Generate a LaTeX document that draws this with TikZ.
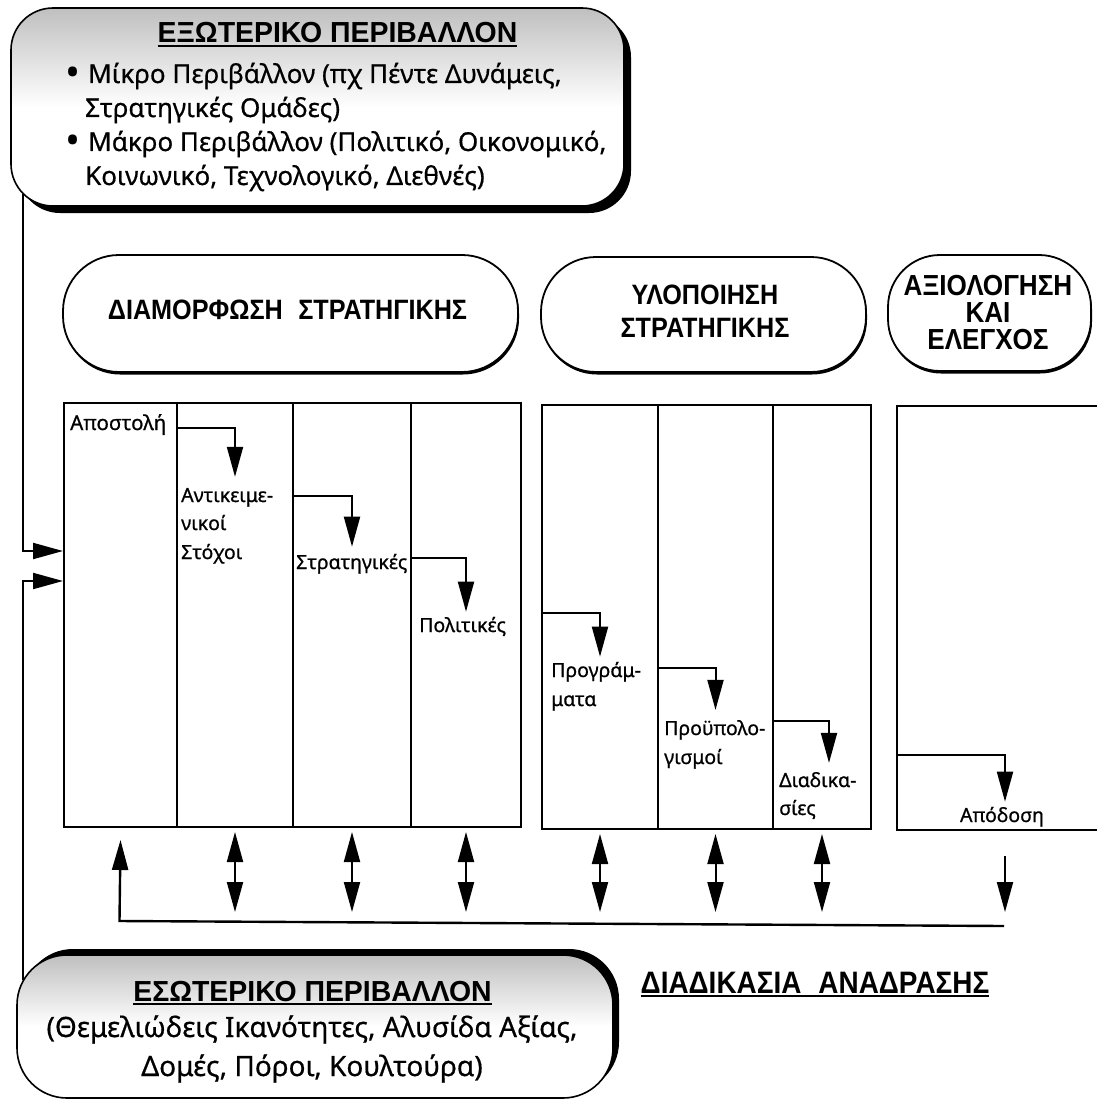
\documentclass[tikz,border=0pt]{standalone}
\usepackage{fontspec}
\setmainfont{Noto Sans}
\newfontfamily\titlef[FakeStretch=0.98]{Liberation Sans}
\newfontfamily\headf[FakeStretch=0.9]{Liberation Sans}
\newfontfamily\lblf[FakeBold=0.8]{Noto Sans}
\newfontfamily\bodyf[FakeBold=0.6]{Noto Sans}
\usetikzlibrary{arrows.meta,shadows}
\begin{document}
\begin{tikzpicture}[x=1pt,y=-1pt,
  >={Triangle[length=30pt,width=16pt]},
  big/.style={draw=black, line width=1.6pt, inner sep=0pt},
  shadeTop/.style={top color=gray!50, bottom color=white, middle color=white},
  hdr/.style={draw=black, line width=1.8pt, inner sep=0pt, fill=white,
    general shadow={fill=black, shadow xshift=1pt, shadow yshift=-2.5pt}},
  cell/.style={draw=black, line width=2pt, inner sep=0pt, anchor=north west},
  lbl/.style={inner sep=0pt, anchor=base west, font=\lblf\fontsize{19.5}{24}\selectfont},
  hdrtxt/.style={inner sep=0pt, font=\headf\bfseries\fontsize{28}{30}\selectfont},
  ttl/.style={inner sep=0pt, anchor=base, font=\titlef\bfseries\fontsize{29}{30}\selectfont},
  body/.style={inner sep=0pt, anchor=base west, font=\bodyf\fontsize{26}{30}\selectfont},
  bullet/.style={inner sep=0pt, anchor=center, font=\fontsize{40}{40}\selectfont},
  uline/.style={line width=1.6pt},
  flow/.style={line width=2pt, ->},
  dbl/.style={line width=2pt, <->},
]
\useasboundingbox (0,0) rectangle (1096,1102);
\fill[white] (0,0) rectangle (1096,1102);

% ---------- external environment box ----------
\node[big, shadeTop, rounded corners=42pt, minimum width=613pt, minimum height=198pt,
  general shadow={fill=black, shadow xshift=7pt, shadow yshift=-7pt}] (ext) at (317.5,107) {};
\node[ttl] (extT) at (337.5,43) {ΕΞΩΤΕΡΙΚΟ ΠΕΡΙΒΑΛΛΟΝ};
\draw[uline] ([yshift=-3pt]extT.base west) -- ([yshift=-3pt]extT.base east);
\node[bullet] (bul1) at (73,77) {•};
\node[body] (b1) at (88,83) {Μίκρο Περιβάλλον (πχ Πέντε Δυνάμεις,};
\node[body] (b2) at (85,117) {Στρατηγικές Ομάδες)};
\node[bullet] (bul2) at (73,145) {•};
\node[body] (b3) at (88,151) {Μάκρο Περιβάλλον (Πολιτικό, Οικονομικό,};
\node[body] (b4) at (85,185) {Κοινωνικό, Τεχνολογικό, Διεθνές)};

% ---------- headers ----------
\node[hdr, rounded corners=56pt, minimum width=455pt, minimum height=117pt] (h1) at (290.5,313.5) {};
\node[hdrtxt] (h1t) at (287.5,310) {ΔΙΑΜΟΡΦΩΣΗ\hspace{0.3em} ΣΤΡΑΤΗΓΙΚΗΣ};
\node[hdr, rounded corners=55pt, minimum width=325pt, minimum height=115pt] (h2) at (703.5,314.5) {};
\node[hdrtxt, align=center, font=\headf\bfseries\fontsize{28}{33}\selectfont] (h2t) at (705,311) {ΥΛΟΠΟΙΗΣΗ\\ΣΤΡΑΤΗΓΙΚΗΣ};
\node[hdr, rounded corners=52pt, minimum width=203pt, minimum height=116pt] (h3) at (989.5,313) {};
\node[hdrtxt, align=center, font=\headf\bfseries\fontsize{29}{27}\selectfont] (h3t) at (988,313) {ΑΞΙΟΛΟΓΗΣΗ\\ΚΑΙ\\ΕΛΕΓΧΟΣ};

% ---------- columns ----------
\node[cell, minimum width=113pt, minimum height=424pt] (c1) at (63,402) {};
\node[cell, minimum width=116pt, minimum height=424pt] (c2) at (176,402) {};
\node[cell, minimum width=118pt, minimum height=424pt] (c3) at (292,402) {};
\node[cell, minimum width=110pt, minimum height=424pt] (c4) at (410,402) {};
\node[cell, minimum width=116pt, minimum height=424pt] (c5) at (541,404) {};
\node[cell, minimum width=115pt, minimum height=424pt] (c6) at (657,404) {};
\node[cell, minimum width=98pt, minimum height=424pt] (c7) at (772,404) {};
\node[cell, minimum width=216pt, minimum height=424pt] (c8) at (896,405) {};

% ---------- labels ----------
\node[lbl, font=\lblf\fontsize{20.5}{24}\selectfont] (apost) at (70,430) {Αποστολή};
\node[lbl] (antik) at (181,502) {Αντικειμε-};
\node[lbl] (antik2) at (181,530) {νικοί};
\node[lbl] (antik3) at (181,559) {Στόχοι};
\node[lbl] (strat) at (296,569) {Στρατηγικές};
\node[lbl] (polit) at (419,632) {Πολιτικές};
\node[lbl] (progr) at (551,677) {Προγράμ-};
\node[lbl] (progr2) at (551,706) {ματα};
\node[lbl] (proyp) at (664,735) {Προϋπολο-};
\node[lbl] (proyp2) at (664,764) {γισμοί};
\node[lbl] (diad) at (779,787) {Διαδικα-};
\node[lbl] (diad2) at (779,815) {σίες};
\node[lbl, anchor=base] (apod) at (1002,822) {Απόδοση};

% ---------- flow arrows ----------
\draw[flow] ([yshift=2pt]c1.east |- apost.base) -| ([yshift=11pt]c2.center |- antik.north);
\draw[flow] ([yshift=6pt]c2.east |- antik.base) -| ([yshift=7pt]c3.center |- strat.north);
\draw[flow] ([yshift=11pt]c3.east |- strat.base) -| ([yshift=5pt]c4.center |- polit.north);
\draw[flow] ([yshift=19pt]c5.west |- polit.base) -| ([yshift=5pt]c5.center |- progr.north);
\draw[flow] ([yshift=9pt]c5.east |- progr.base) -| ([yshift=10pt]c6.center |- proyp.north);
\draw[flow] ([yshift=14pt]c6.east |- proyp.base) -| ([xshift=7pt,yshift=9pt]c7.center |- diad.north);
\draw[flow] ([yshift=67pt]c8.west |- apod.base) -| ([yshift=5pt]c8.center |- apod.north);

% ---------- environment inputs ----------
\coordinate (la) at (23,551);
\coordinate (lb) at (23,581);
\draw[flow] ([yshift=13pt]ext.south -| la) -- (la) -- (c1.west |- la);

% ---------- internal environment box ----------
\node[big, shadeTop, rounded corners=50pt, minimum width=596pt, minimum height=143pt,
  general shadow={fill=black, shadow xshift=6pt, shadow yshift=6pt}] (intl) at (315,1026.5) {};
\node[ttl] (intT) at (312.5,1001) {ΕΣΩΤΕΡΙΚΟ ΠΕΡΙΒΑΛΛΟΝ};
\draw[uline] ([yshift=-3pt]intT.base west) -- ([yshift=-3pt]intT.base east);
\node[body, anchor=base, font=\bodyf\fontsize{28}{30}\selectfont] (i1) at (312,1037) {(Θεμελιώδεις Ικανότητες, Αλυσίδα Αξίας,};
\node[body, anchor=base, font=\bodyf\fontsize{28}{30}\selectfont] (i2) at (312,1076) {Δομές, Πόροι, Κουλτούρα)};
\draw[flow] ([yshift=-26pt]intl.north -| lb) -- (lb) -- (c1.west |- lb);

% ---------- feedback ----------
\coordinate (fy) at (0,912);
\draw[dbl] ([yshift=-4pt]c2.south) -- (c2.south |- fy);
\draw[dbl] ([yshift=-4pt]c3.south) -- (c3.south |- fy);
\draw[dbl] ([yshift=-4pt]c4.south) -- (c4.south |- fy);
\draw[dbl] ([yshift=-4pt]c5.south) -- (c5.south |- fy);
\draw[dbl] ([yshift=-4pt]c6.south) -- (c6.south |- fy);
\draw[dbl] ([yshift=-4pt]c7.south) -- (c7.south |- fy);
\draw[flow] ([yshift=-25pt]c8.south) -- (c8.south |- fy);
\coordinate (fbR) at (1004,926);
\coordinate (fbL) at (119.5,921);
\draw[flow, line width=2.4pt] (fbR) -- (fbL) -- ([yshift=-12pt]c1.south);

\node[hdrtxt, anchor=base, font=\headf\bfseries\fontsize{31}{32}\selectfont] (fbt) at (815,993) {ΔΙΑΔΙΚΑΣΙΑ\hspace{0.3em} ΑΝΑΔΡΑΣΗΣ};
\draw[uline] ([yshift=-3pt]fbt.base west) -- ([yshift=-3pt]fbt.base east);
\end{tikzpicture}
\end{document}
